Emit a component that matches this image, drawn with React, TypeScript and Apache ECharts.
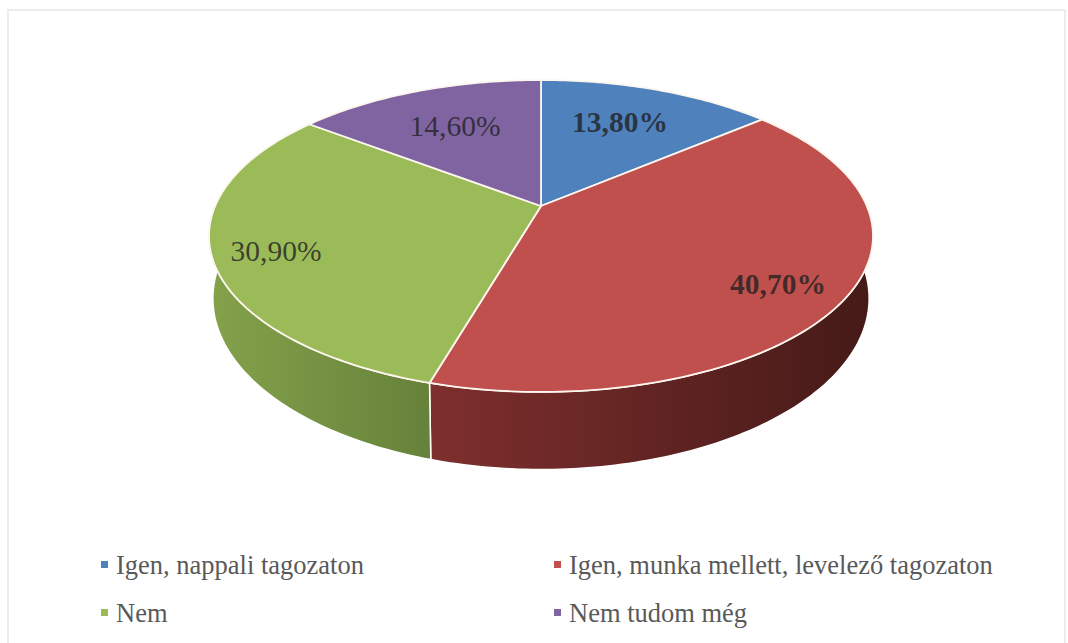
import React, { useEffect, useRef } from "react";
import * as echarts from "echarts";

const categories = [
  "Igen, nappali tagozaton",
  "Igen, munka mellett, levelező tagozaton",
  "Nem",
  "Nem tudom még",
];
const shares = [13.8, 40.7, 30.9, 14.6];
const boldLabels = [true, true, false, false];
const faceColors = ["#4F81BD", "#C0504D", "#9BBB59", "#8064A2"];
const wallColors = [
  ["#3A5F8C", "#2A4568"],
  ["#7E2F2E", "#451A17"],
  ["#84A24B", "#66823A"],
  ["#5E4A78", "#463758"],
];
// Label centres, measured from the pie's hub.
const labelOffsets = [
  [79, -84],
  [237, 78],
  [-265, 45],
  [-86, -80],
];
const legendSpots = [
  [101, 551],
  [554, 551],
  [101, 599],
  [554, 599],
];

const HUB_X = 541;
const PERSPECTIVE = -0.1923;
// Upper face and base are projected separately: the base is seen more steeply.
const FACE = { hubY: 206, radiusX: 325.8, radiusY: 150.2 };
const BASE = { hubY: 265.5, radiusX: 322, radiusY: 164.8 };

const total = shares.reduce((a, b) => a + b, 0);

// Projects a rim point (clockwise from 12 o'clock) onto a tilted disc.
function rim(angle: number, disc: typeof FACE): number[] {
  const u = Math.sin(angle);
  const v = -Math.cos(angle);
  const w = 1 + PERSPECTIVE * v;
  return [HUB_X + (disc.radiusX * u) / w, disc.hubY + (disc.radiusY * v) / w];
}

function arc(from: number, to: number, disc: typeof FACE): number[][] {
  const steps = Math.max(8, Math.ceil(((to - from) * 180) / Math.PI));
  const pts: number[][] = [];
  for (let i = 0; i <= steps; i++) {
    pts.push(rim(from + ((to - from) * i) / steps, disc));
  }
  return pts;
}

function sliceRenderer(index: number) {
  const before = shares.slice(0, index).reduce((a, b) => a + b, 0);
  return (_params: unknown, api: any) => {
    const value = api.value(0) as number;
    const start = (before / total) * Math.PI * 2;
    const end = ((before + value) / total) * Math.PI * 2;
    const upper = arc(start, end, FACE);
    const lower = arc(start, end, BASE);
    return {
      type: "group",
      children: [
        {
          type: "polygon",
          z2: 1,
          shape: { points: [...upper, ...lower.reverse()] },
          style: {
            fill: new echarts.graphic.LinearGradient(0, 0, 1, 0, [
              { offset: 0, color: wallColors[index][0] },
              { offset: 1, color: wallColors[index][1] },
            ]),
            stroke: "#ffffff",
            lineWidth: 1.5,
          },
        },
        {
          type: "polygon",
          z2: 10,
          shape: { points: [[HUB_X, FACE.hubY], ...upper] },
          style: {
            fill: faceColors[index],
            stroke: "#fdf6ee",
            lineWidth: 1.8,
            lineJoin: "round",
          },
        },
        {
          type: "text",
          z2: 20,
          x: HUB_X + labelOffsets[index][0],
          y: FACE.hubY + labelOffsets[index][1],
          style: {
            text: `${value.toFixed(2).replace(".", ",")}%`,
            font: `${boldLabels[index] ? "bold " : ""}29.5px "Liberation Serif", serif`,
            fill: "rgba(32,32,32,0.78)",
            align: "center",
            verticalAlign: "middle",
          },
        },
      ],
    };
  };
}

export default function App() {
  const ref = useRef<HTMLDivElement>(null);

  useEffect(() => {
    const chart = echarts.init(ref.current!, null, { renderer: "svg" });
    chart.setOption({
      animation: false,
      backgroundColor: "#ffffff",
      graphic: [
        {
          type: "rect",
          silent: true,
          z: -1,
          shape: { x: 8, y: 10, width: 1057, height: 660 },
          style: { fill: "none", stroke: "#ececec", lineWidth: 2 },
        },
      ],
      legend: categories.map((name, i) => ({
        data: [name],
        left: legendSpots[i][0],
        top: legendSpots[i][1],
        padding: 0,
        itemWidth: 7,
        itemHeight: 7,
        itemGap: 0,
        icon: "rect",
        selectedMode: false,
        textStyle: {
          fontFamily: '"Liberation Serif", serif',
          fontSize: 26.5,
          color: "#595959",
          padding: [0, 0, 0, 3],
        },
      })),
      series: categories.map((name, i) => ({
        type: "custom",
        name,
        coordinateSystem: "none",
        silent: true,
        itemStyle: { color: faceColors[i] },
        data: [[shares[i]]],
        renderItem: sliceRenderer(i),
      })),
    });
    return () => chart.dispose();
  }, []);

  return (
    <div
      ref={ref}
      style={{ position: "fixed", left: 0, top: 0, width: 1068, height: 643 }}
    />
  );
}
